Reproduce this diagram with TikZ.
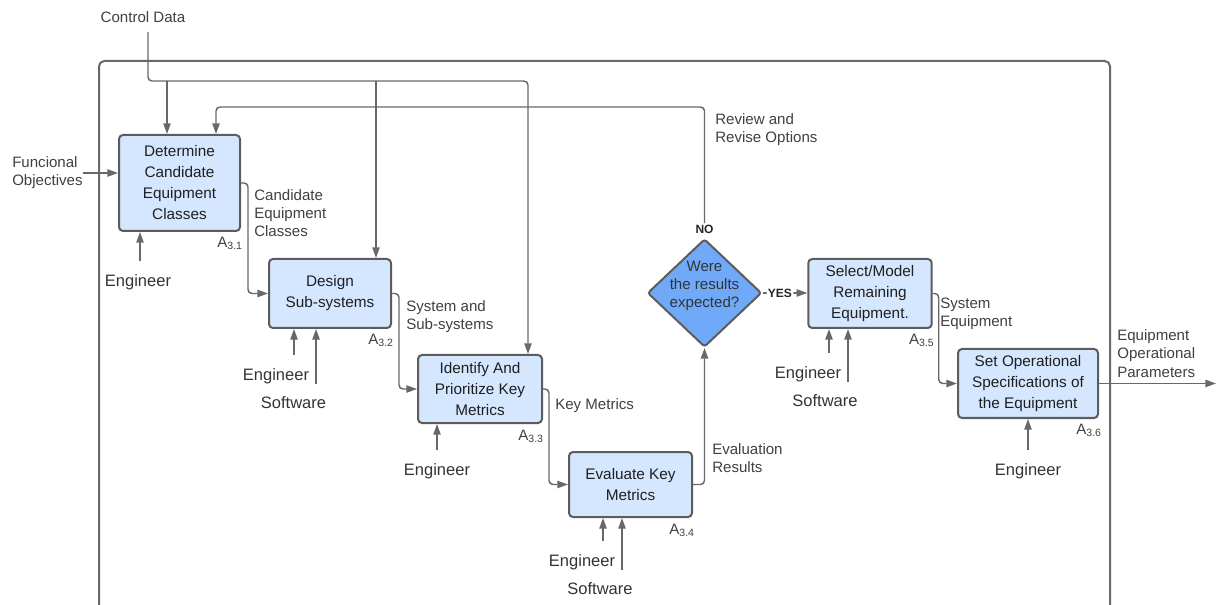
\documentclass[tikz,border=0pt]{standalone}
\usepackage{fontspec}
\setmainfont{Liberation Sans}
\usetikzlibrary{arrows.meta,shapes.geometric}

\definecolor{actfill}{HTML}{D5E6FF}
\definecolor{actline}{HTML}{5C5C5C}
\definecolor{decfill}{HTML}{70A9F8}
\definecolor{wirecol}{HTML}{686868}
\definecolor{lblcol}{HTML}{404040}

\tikzset{
  act/.style={draw=actline, fill=actfill, line width=1.5pt, rounded corners=3pt,
    align=center, inner sep=0pt, text=black!88, font=\fontsize{11.5}{15.75}\selectfont},
  dec/.style={diamond, draw=actline, fill=decfill, line width=1.5pt, rounded corners=2pt,
    inner sep=0pt, minimum width=85.5pt, minimum height=81pt},
  lbl/.style={text=lblcol, align=left, anchor=west, inner sep=0pt,
    font=\fontsize{11.3}{13.6}\selectfont},
  res/.style={text=black!80, inner sep=0pt, font=\fontsize{12.4}{14}\selectfont},
  num/.style={text=lblcol, inner sep=0pt, anchor=north east, font=\fontsize{11.3}{13}\selectfont},
  flag/.style={text=black!85, inner sep=1pt, font=\fontsize{9}{10}\selectfont\bfseries},
  wire/.style={draw=wirecol, line width=1.1pt, rounded corners=3pt},
}

\begin{document}
\begin{tikzpicture}[x=0.75pt, y=-0.75pt, >={Triangle[length=8pt, width=5.5pt]}]
    \useasboundingbox (0,0) rectangle (1216,605);
    \clip (0,0) rectangle (1216,605);

    % Cornice
    \draw[draw=wirecol, line width=1.5pt, rounded corners=4pt] (99,61) rectangle (1110,640);

    % Attivita
    \node[act, minimum width=90.75pt, minimum height=72pt] (a1) at (179.5,183)
        {Determine\\Candidate\\Equipment\\Classes};
    \node[act, minimum width=91.5pt, minimum height=51.75pt] (a2) at (330,293.5)
        {Design\\Sub-systems};
    \node[act, minimum width=93pt, minimum height=51pt] (a3) at (480,389)
        {Identify And\\Prioritize Key\\Metrics};
    \node[act, minimum width=92.25pt, minimum height=48.75pt] (a4) at (630.5,484.5)
        {Evaluate Key\\Metrics};
    \node[act, minimum width=92.6pt, minimum height=51.75pt] (a5) at (870,293.5)
        {Select/Model\\Remaining\\Equipment.};
    \node[act, minimum width=105pt, minimum height=51.75pt] (a6) at (1028,383.5)
        {Set Operational\\Specifications of\\the Equipment};

    % Decisione
    \node[dec, label={[align=center, text=black!80, inner sep=0pt, yshift=5pt,
        font=\fontsize{11.3}{13.5}\selectfont]center:Were\\the results\\expected?}]
        (chk) at (704.5,293) {};
    \node[flag] (no) at (704.5,229) {NO};

    % Numeri
    \node[num] at ([shift={(2,5)}]a1.south east) {A\textsubscript{3.1}};
    \node[num] at ([shift={(2,5)}]a2.south east) {A\textsubscript{3.2}};
    \node[num] at ([shift={(1,6)}]a3.south east) {A\textsubscript{3.3}};
    \node[num] at ([shift={(2,6)}]a4.south east) {A\textsubscript{3.4}};
    \node[num] at ([shift={(2,5)}]a5.south east) {A\textsubscript{3.5}};
    \node[num] at ([shift={(3,5)}]a6.south east) {A\textsubscript{3.6}};

    % Controlli
    \node[lbl, anchor=center] (cd) at (143,17) {Control Data};
    \coordinate (c0) at (148,32);
    \coordinate (j1) at (167,81);
    \coordinate (j2) at (376,81);
    \coordinate (j3) at (528,81);
    \draw[wire, ->] (c0) |- (j3) -- (j3 |- a3.north);
    \draw[wire, ->] (j1) -- (j1 |- a1.north);
    \draw[wire, ->] (j2) -- (j2 |- a2.north);

    % Ritorno
    \coordinate (fb) at (216,107);
    \draw[wire, ->] (no.north) |- (fb) -- (fb |- a1.north);
    \node[lbl] (rv) at (715,130) {Review and\\Revise Options};

    % Ingresso
    \node[lbl] (fo) at (12,173) {Funcional\\Objectives};
    \draw[wire, ->] (fo.east) -- (fo.east -| a1.west);

    % Flussi
    \draw[wire, ->] (a1.east) -- ++(7,0) |- (a2.west);
    \node[lbl] (ce) at (254,213) {Candidate\\Equipment\\Classes};
    \draw[wire, ->] (a2.east) -- ++(7,0) |- (a3.west);
    \node[lbl] (ss) at (406,316.5) {System and\\Sub-systems};
    \draw[wire, ->] (a3.east) -- ++(6,0) |- (a4.west);
    \node[lbl] (km) at (555,406) {Key Metrics};
    \draw[wire, ->] (a4.east) -| (chk.south);
    \node[lbl] (er) at (712,458.5) {Evaluation\\Results};
    \draw[wire, ->] (chk.east) -- (chk.east -| a5.west)
        node[flag, pos=0, anchor=west, xshift=2.5pt, fill=white] {YES};
    \draw[wire, ->] (a5.east) -- ++(6,0) |- (a6.west);
    \node[lbl] (se) at (940,313.5) {System\\Equipment};
    \coordinate (out) at (1216,383.5);
    \draw[wire, ->] (a6.east) -- (out);
    \node[lbl] (op) at (1117,353.5) {Equipment\\Operational\\Parameters};

    % Meccanismi
    \node[res] (e1) at (138,282) {Engineer};
    \node[res] (e2) at (276,376) {Engineer};
    \node[res] (s2) at (293.5,403) {Software};
    \node[res] (e3) at (437,471) {Engineer};
    \node[res] (e4) at (582,562) {Engineer};
    \node[res] (s4) at (600,589) {Software};
    \node[res] (e5) at (808,374) {Engineer};
    \node[res] (s5) at (825,401) {Software};
    \node[res] (e6) at (1028,471) {Engineer};
    \draw[wire, ->] ([xshift=1.5pt, yshift=9.75pt]e1.north) -- ([xshift=1.5pt]e1.north |- a1.south);
    \draw[wire, ->] ([xshift=13.5pt, yshift=9.75pt]e2.north) -- ([xshift=13.5pt]e2.north |- a2.south);
    \draw[wire, ->] ([xshift=16.9pt, yshift=9.75pt]s2.north) -- ([xshift=16.9pt]s2.north |- a2.south);
    \draw[wire, ->] ([yshift=9.75pt]e3.north) -- (e3.north |- a3.south);
    \draw[wire, ->] ([xshift=15.75pt, yshift=9.75pt]e4.north) -- ([xshift=15.75pt]e4.north |- a4.south);
    \draw[wire, ->] ([xshift=16.5pt, yshift=9.75pt]s4.north) -- ([xshift=16.5pt]s4.north |- a4.south);
    \draw[wire, ->] ([xshift=15.75pt, yshift=9.75pt]e5.north) -- ([xshift=15.75pt]e5.north |- a5.south);
    \draw[wire, ->] ([xshift=17.25pt, yshift=9.75pt]s5.north) -- ([xshift=17.25pt]s5.north |- a5.south);
    \draw[wire, ->] ([yshift=9.75pt]e6.north) -- (e6.north |- a6.south);
\end{tikzpicture}
\end{document}
